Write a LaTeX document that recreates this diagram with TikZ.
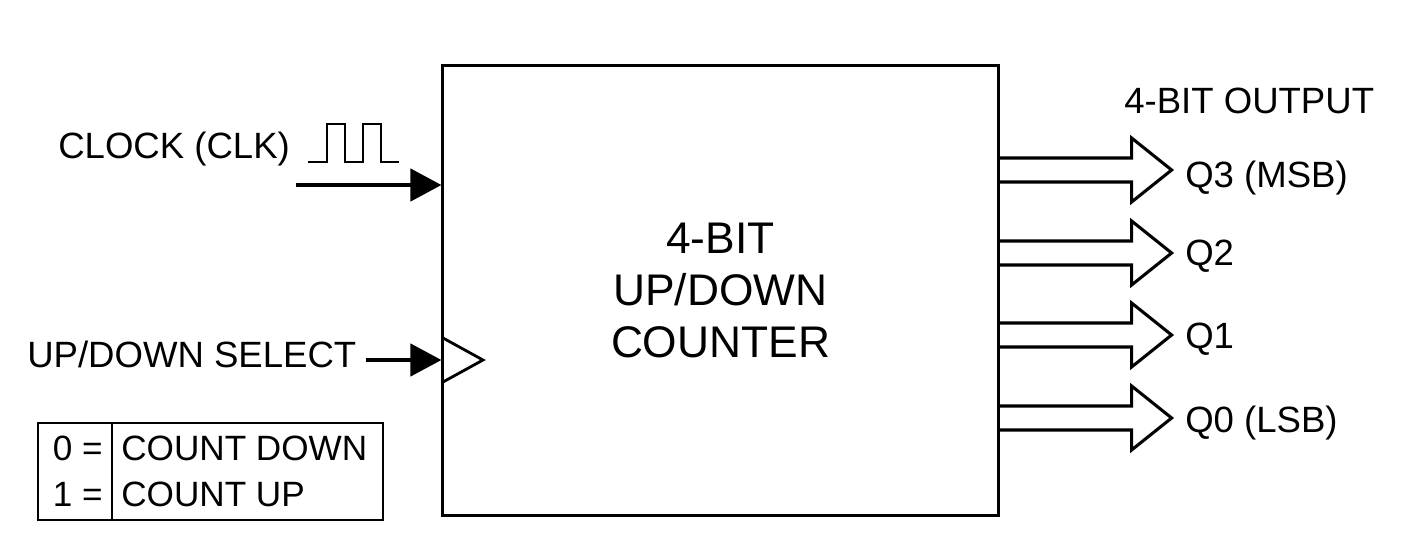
\documentclass[tikz,border=0pt]{standalone}
\usepackage{fontspec}
\setmainfont{Liberation Sans}
\usetikzlibrary{arrows.meta}

\tikzset{
	labeltext/.style={inner sep=0pt, font=\fontsize{26}{30}\selectfont},
	legendtext/.style={inner sep=0pt, font=\fontsize{25}{30}\selectfont},
	signal/.style={line width=2.5pt, -{Triangle[length=22pt,width=23pt]}},
	busarrow/.style={line width=2.2pt, line join=miter},
}

\begin{document}
\begin{tikzpicture}[x=0.025cm,y=-0.025cm]
	\useasboundingbox (0,0) rectangle (1408,535);

	%Counter block
	\node (counter) [draw, line width=2.2pt, minimum width=13.875cm, minimum height=11.225cm, inner sep=0pt, align=center, font=\fontsize{31.5}{37}\selectfont] at (720.5,290.5) {4-BIT\\UP/DOWN\\COUNTER};

	%Clock input
	\node (clk) [labeltext, anchor=base west] at (58,158) {CLOCK (CLK)};
	\coordinate (clkin) at (296,185);
	\draw [signal] (clkin) -- (clkin -| counter.west);
	%Clock waveform
	\draw [line width=2pt] (308,162) -- (327,162) -- (327,124) -- (345,124) -- (345,162) -- (363,162) -- (363,124) -- (381,124) -- (381,162) -- (399,162);

	%Up/down select input
	\node (sel) [labeltext, anchor=base west] at (27,367) {UP/DOWN SELECT};
	\coordinate (selin) at (366,360);
	\draw [signal] (selin) -- (selin -| counter.west);
	%Edge triangle
	\draw [line width=2pt] (443,338) -- (483,360) -- (443,382);

	%Outputs
	\node (outtitle) [labeltext, anchor=base west] at (1124,113) {4-BIT OUTPUT};
	\foreach \y/\b/\txt [count=\i] in {170/187/Q3 (MSB), 253/265/Q2, 335/348/Q1, 418/432/Q0 (LSB)} {
		\node (q\i) [labeltext, anchor=base west] at (1185,\b) {\txt};
		\coordinate (qout\i) at (counter.east |- 0,\y);
		\draw [busarrow] (qout\i) ++(0,-12) -- ++(132,0) -- ++(0,-20) -- ++(40,32) -- ++(-40,32) -- ++(0,-20) -- ++(-132,0);
	}

	%Legend
	\node (legend) [draw, line width=1.5pt, minimum width=8.625cm, minimum height=2.425cm, inner sep=0pt] at (210.5,471.5) {};
	\draw [line width=1.5pt] (112,0 |- legend.north) -- (112,0 |- legend.south);
	\node (zero) [legendtext, anchor=base east] at (103,460) {0 =};
	\node (down) [legendtext, anchor=base west] at (121,460) {COUNT DOWN};
	\node (one) [legendtext, anchor=base east] at (103,506) {1 =};
	\node (up) [legendtext, anchor=base west] at (121,506) {COUNT UP};
\end{tikzpicture}
\end{document}
